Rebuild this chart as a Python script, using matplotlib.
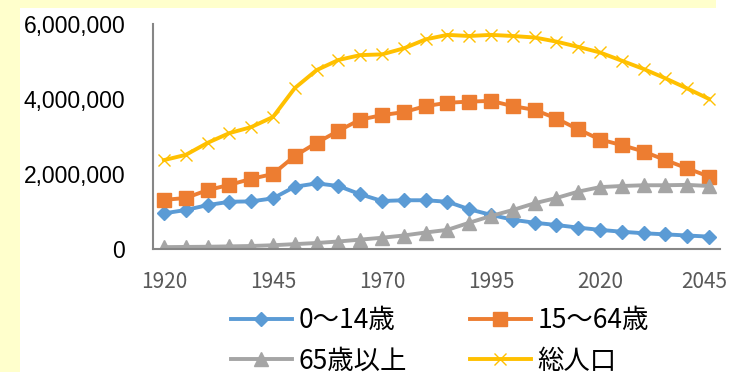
import matplotlib
matplotlib.use("Agg")
import matplotlib.pyplot as plt
from matplotlib.patches import Rectangle
from matplotlib.ticker import FuncFormatter
from matplotlib.transforms import ScaledTranslation

plt.rcParams['font.family'] = ['Noto Sans CJK JP', 'DejaVu Sans']

years = list(range(1920, 2050, 5))

# 年齢3区分別人口
age_0_14 = [950000, 1040000, 1170000, 1260000, 1270000, 1350000, 1660000, 1750000,
            1680000, 1460000, 1280000, 1300000, 1300000, 1260000, 1060000, 910000,
            780000, 700000, 640000, 570000, 510000, 460000, 420000, 390000, 360000, 330000]
age_15_64 = [1310000, 1360000, 1570000, 1710000, 1870000, 2000000, 2480000, 2830000,
             3150000, 3450000, 3570000, 3650000, 3810000, 3900000, 3930000, 3950000,
             3810000, 3710000, 3480000, 3190000, 2920000, 2770000, 2600000, 2370000, 2150000, 1930000]
age_65 = [50000, 55000, 60000, 70000, 80000, 100000, 130000, 160000,
          200000, 250000, 300000, 360000, 440000, 510000, 700000, 880000,
          1040000, 1220000, 1360000, 1530000, 1650000, 1680000, 1700000, 1700000, 1710000, 1680000]
total = [2370000, 2510000, 2830000, 3090000, 3250000, 3520000, 4290000, 4770000,
         5040000, 5170000, 5190000, 5350000, 5590000, 5710000, 5680000, 5710000,
         5680000, 5640000, 5530000, 5390000, 5240000, 5020000, 4800000, 4550000, 4280000, 4000000]

labels = ['0～14歳', '15～64歳', '65歳以上', '総人口']

fig = plt.figure(figsize=(7.31, 3.72), dpi=100)
fig.patch.set_facecolor('white')

# 背景の薄黄色の帯
fig.patches.append(Rectangle((0, 0), 20 / 731, 1, transform=fig.transFigure,
                             facecolor='#FFFFCC', edgecolor='none', zorder=0))
fig.patches.append(Rectangle((0, 1 - 8 / 372), 716 / 731, 8 / 372, transform=fig.transFigure,
                             facecolor='#FFFFCC', edgecolor='none', zorder=0))

ax = fig.add_axes([153 / 731, 1 - 249 / 372, 567 / 731, 225 / 372])
ax.set_facecolor('none')

lw = 2.8
l1, = ax.plot(years, age_0_14, color='#5B9BD5', lw=lw, marker='D', ms=7, label=labels[0])
l2, = ax.plot(years, age_15_64, color='#ED7D31', lw=lw, marker='s', ms=10, label=labels[1])
l3, = ax.plot(years, age_65, color='#A5A5A5', lw=lw, marker='^', ms=10, label=labels[2])
l4, = ax.plot(years, total, color='#FFC000', lw=lw, marker='x', ms=9, mew=1.0, label=labels[3])

ax.set_xlim(1917.5, 2047.5)
ax.set_ylim(0, 6000000)
ax.set_yticks([0, 2000000, 4000000, 6000000])
ax.yaxis.set_major_formatter(FuncFormatter(lambda v, p: f'{int(v):,}'))
ax.set_xticks(years[::5])

for s in ['top', 'right']:
    ax.spines[s].set_visible(False)
for s in ['left', 'bottom']:
    ax.spines[s].set_color('#868686')
    ax.spines[s].set_linewidth(1.5)

ax.tick_params(axis='y', length=0, pad=20, labelsize=16.5, labelcolor='black',
               labelfontfamily='Liberation Sans')
ax.tick_params(axis='x', length=0, pad=16, labelsize=15, labelcolor='#595959')
# 右端の年ラベルを少し内側へ
last = ax.get_xticklabels()[-1]
last.set_transform(last.get_transform() + ScaledTranslation(-5 / 100, 0, fig.dpi_scale_trans))

# 凡例は行ごとに 0～14歳/15～64歳, 65歳以上/総人口
fig.legend([l1, l3, l2, l4], [labels[0], labels[2], labels[1], labels[3]],
           loc='upper left', bbox_to_anchor=(231 / 731, 1 - 307 / 372), ncol=2,
           frameon=False, fontsize=19, handlelength=2.3, handletextpad=0.25,
           columnspacing=2.4, labelspacing=0.52, borderpad=0, borderaxespad=0)

fig.savefig('out.png', dpi=100)
